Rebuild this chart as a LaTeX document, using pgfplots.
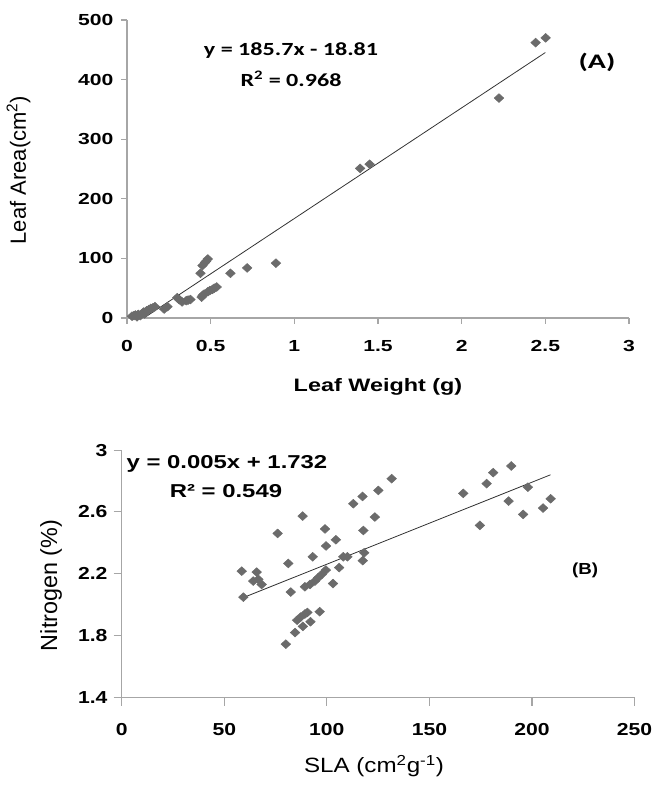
\documentclass[border=0pt]{standalone}
\usepackage{pgfplots}
\pgfplotsset{compat=1.18}
\usepackage{fontspec}
\setmainfont{Liberation Sans}
\newfontfamily\tickA[FakeStretch=1.32]{Liberation Sans}
\newfontfamily\labA[FakeStretch=1.3]{Liberation Sans}
\newfontfamily\tickB[FakeStretch=1.22]{Liberation Sans}
\newfontfamily\eqB[FakeStretch=1.28]{Liberation Sans}
\newfontfamily\labB[FakeStretch=1.17]{Liberation Sans}
\newfontfamily\calA[FakeStretch=1.3]{Carlito}
\newfontfamily\calAA[FakeStretch=1.45]{Carlito}
\definecolor{axgray}{HTML}{A6A6A6}
\definecolor{mk}{HTML}{6B6B6B}
\begin{document}
\begin{tikzpicture}
\path (0,0) rectangle (489.75pt,590.25pt);
% ---------------- Panel A ----------------
\begin{axis}[
  at={(95.25pt,351.75pt)}, anchor=south west,
  scale only axis, width=376.5pt, height=223.5pt,
  xmin=0, xmax=3, ymin=0, ymax=500,
  axis lines=left,
  axis line style={-, draw=axgray, line width=0.8pt},
  tick style={draw=axgray, line width=0.8pt},
  tick align=outside, major tick length=4.5pt,
  xtick={0,0.5,1,1.5,2,2.5,3},
  xticklabels={0,0.5,1,1.5,2,2.5,3},
  ytick={0,100,200,300,400,500},
  yticklabels={0,100,200,300,400,500},
  xticklabel style={font=\tickA\bfseries\fontsize{12}{12}\selectfont, anchor=center, yshift=-16.5pt, inner sep=0pt},
  yticklabel style={font=\tickA\bfseries\fontsize{12}{12}\selectfont, anchor=east, inner sep=0pt, xshift=-5.5pt},
  clip=false,
]
\addplot[only marks, mark=diamond*, mark size=3.3pt, color=mk, mark options={xscale=1.45}] coordinates {
 (2.502,470) (2.442,462) (2.223,369) (1.450,258) (1.393,251)
 (0.89,92) (0.718,84) (0.618,75)
 (0.483,99) (0.472,95) (0.466,93) (0.451,88) (0.439,75)
 (0.536,52) (0.522,50) (0.511,48) (0.495,46) (0.483,44) (0.461,40) (0.446,35) (0.452,38)
 (0.379,31) (0.365,30) (0.354,29) (0.329,27) (0.311,31) (0.300,34)
 (0.242,19) (0.222,15)
 (0.167,19) (0.155,17) (0.142,16) (0.130,14) (0.117,12) (0.105,7) (0.100,10)
 (0.092,8) (0.080,4) (0.070,5) (0.067,6) (0.060,2) (0.050,5) (0.042,4) (0.030,3)
};
\addplot[color=black!80, line width=0.6pt] coordinates {(0.101,0) (2.5,445.4)};
\end{axis}
% ---------------- Panel B ----------------
\begin{axis}[
  at={(91.3pt,67.1pt)}, anchor=south west,
  scale only axis, width=384.6pt, height=185.6pt,
  xmin=0, xmax=250, ymin=1.4, ymax=3,
  axis lines=left,
  axis line style={-, draw=axgray, line width=0.8pt},
  tick style={draw=axgray, line width=0.8pt},
  tick align=outside, major tick length=6pt,
  xtick={0,50,100,150,200,250},
  xticklabels={0,50,100,150,200,250},
  ytick={1.4,1.8,2.2,2.6,3},
  yticklabels={1.4,1.8,2.2,2.6,3},
  xticklabel style={font=\tickB\bfseries\fontsize{13}{13}\selectfont, anchor=center, yshift=-18pt, inner sep=0pt},
  yticklabel style={font=\tickB\bfseries\fontsize{13}{13}\selectfont, anchor=east, inner sep=0pt, xshift=-4.5pt},
  clip=false,
]
\addplot[only marks, mark=diamond*, mark size=3.3pt, color=mk, mark options={xscale=1.45}] coordinates {
 (58.5,2.217) (59.3,2.049) (64.1,2.153) (65.8,2.211) (66.6,2.164) (68.2,2.131)
 (76,2.461) (81.2,2.267) (82.4,2.082) (88.2,2.573) (89.3,2.116) (93.1,2.31)
 (91.8,2.131) (94.2,2.153) (95.8,2.175) (97.5,2.196) (99.5,2.224)
 (99.1,2.49) (99.6,2.38) (104.4,2.42) (103,2.137) (106,2.24) (108,2.31) (110,2.31)
 (80,1.745) (84.5,1.82) (85.5,1.90) (87.2,1.92) (88.3,1.86) (89.3,1.94) (90.5,1.95) (92,1.89) (96.5,1.955)
 (112.9,2.653) (117.4,2.70) (117.8,2.48) (118.2,2.336) (117.5,2.285) (123.4,2.567) (125.1,2.739) (131.6,2.815)
 (166.5,2.72) (174.6,2.513) (177.9,2.783) (181.1,2.854) (189.9,2.897) (188.6,2.67) (195.7,2.584) (198,2.76)
 (205.4,2.625) (209.1,2.685)
};
\addplot[color=black!80, line width=0.6pt] coordinates {(60,2.05) (209,2.84)};
\end{axis}
% ---------------- Text ----------------
\node[font=\calA\bfseries\fontsize{13.9}{14}\selectfont] at (218.25pt,552pt) {y = 185.7x - 18.81};
\node[font=\calA\bfseries\fontsize{13.9}{14}\selectfont] at (218.25pt,531pt) {R\textsuperscript{2} = 0.968};
\node[font=\calAA\bfseries\fontsize{15.5}{16}\selectfont] at (447.75pt,543.75pt) {(A)};
\node[font=\fontsize{16.5}{17}\selectfont, rotate=90] at (13.9pt,462.75pt) {Leaf Area(cm\textsuperscript{2})};
\node[font=\labA\bfseries\fontsize{13.5}{14}\selectfont] at (283.5pt,300pt) {Leaf Weight (g)};
\node[font=\eqB\bfseries\fontsize{14}{14}\selectfont] at (170.25pt,242.25pt) {y = 0.005x + 1.732};
\node[font=\eqB\bfseries\fontsize{14}{14}\selectfont] at (169.5pt,222pt) {R² = 0.549};
\node[font=\labB\bfseries\fontsize{12}{12}\selectfont] at (438.75pt,162.75pt) {(B)};
\node[font=\fontsize{17.5}{18}\selectfont, rotate=90] at (38.25pt,151.1pt) {Nitrogen (\%)};
\node[font=\labB\fontsize{15.5}{15}\selectfont] at (280.5pt,15.5pt) {SLA (cm\textsuperscript{2}g\textsuperscript{-1})};
\end{tikzpicture}
\end{document}
